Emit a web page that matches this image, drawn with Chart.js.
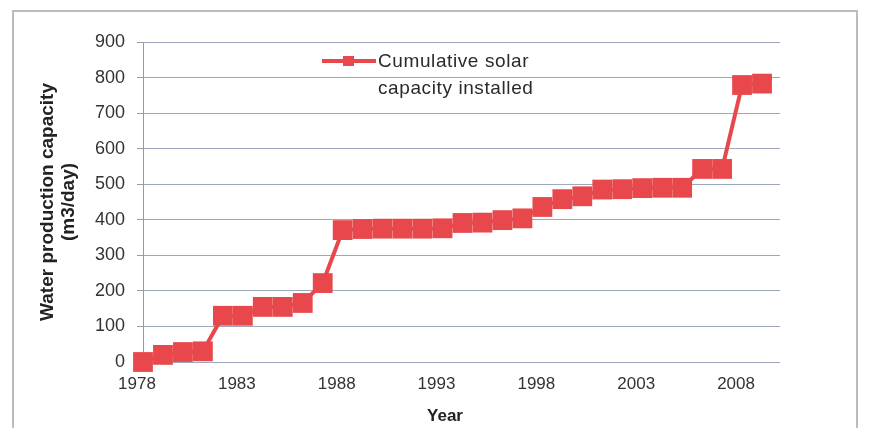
<!DOCTYPE html>
<html>
<head>
<meta charset="utf-8">
<script src="https://cdn.jsdelivr.net/npm/chart.js@4"></script>
<style>
  html, body { margin: 0; padding: 0; background: #fff; }
  #wrap { position: relative; width: 869px; height: 428px; overflow: hidden; }
  #frame { position: absolute; left: 12px; top: 10px; width: 846px; height: 440px; border: 2px solid #b9bcc2; box-sizing: border-box; }
  #legend { position: absolute; left: 322px; top: 47px; font-family: "Liberation Sans", Arial, sans-serif; font-size: 19px; color: #2a2a2a; }
  #legend .line { position: absolute; left: 0; top: 12px; width: 54px; height: 4px; background: #e8484c; }
  #legend .mark { position: absolute; left: 21px; top: 9px; width: 11px; height: 10px; background: #e8484c; }
  #legend .txt { position: absolute; left: 56px; top: 0; line-height: 27px; white-space: nowrap; letter-spacing: 0.6px; }
  #xTitle { position: absolute; left: 405px; width: 80px; top: 406px; text-align: center; font-family: "Liberation Sans", Arial, sans-serif; font-size: 17px; font-weight: bold; color: #222; }
</style>
</head>
<body>
<div id="wrap">
  <canvas id="chartCanvas" width="869" height="428"></canvas>
  <div id="frame"></div>
  <div id="legend">
    <div class="line"></div><div class="mark"></div>
    <div class="txt" id="legendText"></div>
  </div>
  <div id="xTitle"></div>
</div>
<script>
// valeurs (capacite cumulee, m3/jour)
const years = [1978, 1979, 1980, 1981, 1982, 1983, 1984, 1985, 1986, 1987,
               1988, 1989, 1990, 1991, 1992, 1993, 1994, 1995, 1996, 1997,
               1998, 1999, 2000, 2001, 2002, 2003, 2004, 2005, 2006, 2007,
               2008, 2009];
const capacity = [0, 20, 28, 30, 130, 130, 155, 155, 166, 222,
                  371, 374, 375, 375, 375, 376, 391, 392, 399, 404,
                  436, 458, 466, 485, 486, 489, 490, 490, 543, 543,
                  779, 783];
const tickYears = [1978, 1983, 1988, 1993, 1998, 2003, 2008];
const seriesName = ["Cumulative solar", "capacity installed"];
const yTitle = ["Water production capacity", "(m3/day)"];
const xTitle = "Year";

document.getElementById("legendText").innerHTML = seriesName.join("<br>");
document.getElementById("xTitle").innerText = xTitle;

const red = "#e8484c";
const font = "'Liberation Sans', Arial, sans-serif";

const chart = new Chart(document.getElementById("chartCanvas"), {
    type: "line",
    data: {
        datasets: [{
            label: seriesName.join(" "),
            data: years.map((y, i) => ({ x: y, y: capacity[i] })),
            borderColor: red,
            backgroundColor: red,
            borderWidth: 4,
            pointStyle: "rect",
            pointRadius: 14,
            pointBorderWidth: 0,
            pointBackgroundColor: red,
            tension: 0,
            clip: false
        }]
    },
    options: {
        responsive: false,
        animation: false,
        layout: { padding: { top: 42, right: 89, left: 0, bottom: 0 } },
        plugins: { legend: { display: false }, tooltip: { enabled: false } },
        scales: {
            x: {
                type: "linear",
                min: 1978,
                max: 2009.9,
                afterBuildTicks: axis => { axis.ticks = tickYears.map(v => ({ value: v })); },
                afterFit: scale => { scale.height = 66; },
                grid: { display: true, color: "rgba(0,0,0,0)", drawTicks: false },
                border: { display: false },
                ticks: {
                    padding: 12,
                    labelOffset: -6,
                    maxRotation: 0,
                    color: "#333",
                    font: { family: font, size: 17 },
                    callback: v => String(v)
                }
            },
            y: {
                min: 0,
                max: 900,
                afterFit: scale => { scale.width = 143; },
                grid: { color: "#9ea8bb", lineWidth: 1, tickLength: 6, tickColor: "#9a9a9a" },
                border: { display: true, color: "#9a9a9a", width: 1 },
                ticks: {
                    stepSize: 100,
                    padding: 12,
                    color: "#333",
                    font: { family: font, size: 18 }
                },
                title: {
                    display: true,
                    text: yTitle,
                    color: "#222",
                    padding: { top: 37, bottom: 0 },
                    font: { family: font, size: 19, weight: "bold", lineHeight: 1.1 }
                }
            }
        }
    }
});
</script>
</body>
</html>
